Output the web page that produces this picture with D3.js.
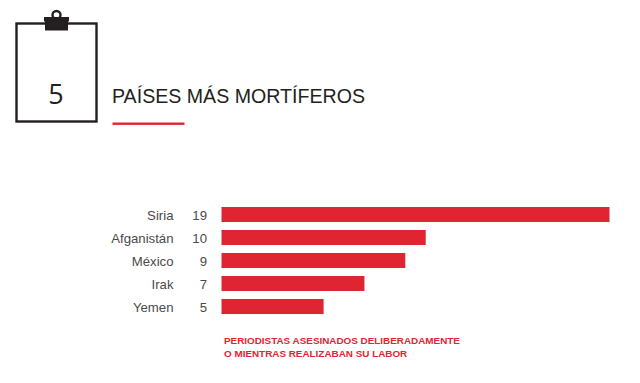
<!DOCTYPE html>
<html><head><meta charset="utf-8">
<script src="https://cdn.jsdelivr.net/npm/d3@7"></script>
<style>html,body{margin:0;background:#fff;overflow:hidden}svg{display:block}text{font-family:"Liberation Sans",Arial,sans-serif}</style>
</head><body><svg id="c" width="640" height="383"></svg>
<script>
const countries = ["Siria","Afganistán","México","Irak","Yemen"];
const killed = [19,10,9,7,5];
const title = "PAÍSES MÁS MORTÍFEROS";
const rank = "5";
const noteLines = ["PERIODISTAS ASESINADOS DELIBERADAMENTE","O MIENTRAS REALIZABAN SU LABOR"];

const svg = d3.select("#c");
const red = "#df2531", ink = "#231f20", grey = "#4a4a4a";
const x = d3.scaleLinear().domain([0,19]).range([221.5,609.5]);
const y = d3.scaleBand().domain(countries).range([203,318]).paddingInner(8/23).paddingOuter(4/23);

// clipboard icon
svg.append("rect").attr("x",16.5).attr("y",23.5).attr("width",80).attr("height",98)
  .attr("fill","none").attr("stroke",ink).attr("stroke-width",2.4);
svg.append("path").attr("fill",ink)
  .attr("d","M44 17H69V21L68 22V30.5H45V22L44 21Z");
svg.append("circle").attr("cx",56.5).attr("cy",15).attr("r",4).attr("fill","none").attr("stroke",ink).attr("stroke-width",2.4);
svg.append("text").attr("x",56).attr("y",104).attr("text-anchor","middle")
  .attr("font-size",27).attr("fill",ink).style("font-family","'Open Sans'").text(rank);

svg.append("text").attr("x",112).attr("y",103).attr("font-size",19.6).attr("fill",ink).text(title);
svg.append("rect").attr("x",112.5).attr("y",122.5).attr("width",72).attr("height",2.4).attr("fill",red);

const rows = svg.selectAll("g.row").data(countries).join("g").attr("class","row");
rows.append("rect").attr("x",x(0)).attr("y",d=>y(d))
  .attr("width",(d,i)=>x(killed[i])-x(0)).attr("height",y.bandwidth()).attr("fill",red);
rows.append("text").attr("x",173.5).attr("y",d=>y(d)+y.bandwidth()/2+5)
  .attr("text-anchor","end").attr("font-size",13.2).attr("fill",grey).text(d=>d);
rows.append("text").attr("x",207).attr("y",d=>y(d)+y.bandwidth()/2+5)
  .attr("text-anchor","end").attr("font-size",13.2).attr("fill",grey).text((d,i)=>killed[i]);

svg.selectAll("text.note").data(noteLines).join("text").attr("class","note")
  .attr("x",224).attr("y",(d,i)=>343.5+i*13).attr("font-size",9.9).attr("font-weight","bold")
  .attr("fill",red).text(d=>d);
</script></body></html>
